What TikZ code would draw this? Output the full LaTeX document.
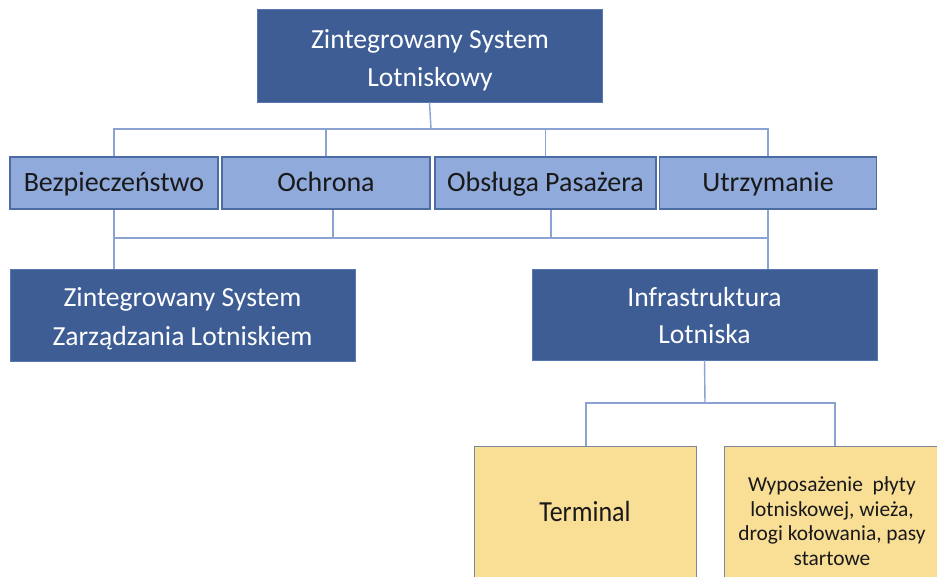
\documentclass[tikz,border=0pt]{standalone}
\usepackage{fontspec}
\usepackage{graphicx}
\setmainfont{Carlito}
\definecolor{darkbox}{HTML}{3E5D95}
\definecolor{darkedge}{HTML}{5677B0}
\definecolor{lightbox}{HTML}{8FAADB}
\definecolor{lightedge}{HTML}{4C6CA4}
\definecolor{yelbox}{HTML}{F9DE96}
\definecolor{yeledge}{HTML}{7D879C}
\definecolor{connc}{HTML}{8AA3D3}
\begin{document}
\begin{tikzpicture}[x=1pt,y=-1pt,
  base/.style={rectangle,inner sep=0pt,align=center},
  darkn/.style={base,fill=darkbox,draw=darkedge,line width=0.8pt},
  darkt/.style={inner sep=0pt,anchor=base,text=white,font=\fontsize{27.6}{33}\selectfont},
  lightn/.style={base,fill=lightbox,draw=lightedge,line width=1.2pt,minimum height=52pt},
  lightt/.style={inner sep=0pt,anchor=base,text=black!90,font=\fontsize{28}{33}\selectfont},
  yeln/.style={base,fill=yelbox,draw=yeledge,line width=1pt,text=black!90},
  conn/.style={draw=connc,line width=1.4pt}]
\useasboundingbox[fill=white] (0,0) rectangle (937,577);

% boxes
\node[darkn,minimum width=345pt,minimum height=93pt] (top) at (429.5,55.5) {};
\node[lightn,minimum width=208pt] (bez) at (114,183) {};
\node[lightn,minimum width=208pt] (och) at (326,183) {};
\node[lightn,minimum width=221pt] (obs) at (545.5,183) {};
\node[lightn,minimum width=217pt] (utr) at (768,183) {};
\node[darkn,minimum width=345pt,minimum height=92pt] (zszl) at (182.5,315) {};
\node[darkn,minimum width=345pt,minimum height=91pt] (inf) at (704.5,314.5) {};
\node[yeln,minimum width=222pt,minimum height=138pt] (term) at (585,515) {};
\node[yeln,minimum width=216pt,minimum height=138pt,anchor=north] (wyp) at (832,446) {};

% texts
\node[darkt] (topA) at (430,49) {Zintegrowany System};
\node[darkt] (topB) at (430,87) {Lotniskowy};
\node[lightt] (bezT) at (114,192) {Bezpieczeństwo};
\node[lightt] (ochT) at (326,192) {Ochrona};
\node[lightt] (obsT) at (545.5,192) {Obsługa Pasażera};
\node[lightt] (utrT) at (768,192) {Utrzymanie};
\node[darkt] (zszlA) at (182.5,307) {Zintegrowany System};
\node[darkt] (zszlB) at (182.5,345) {Zarządzania Lotniskiem};
\node[darkt] (infA) at (704.5,306) {Infrastruktura};
\node[darkt] (infB) at (704.5,344) {Lotniska};
\node[inner sep=0pt,anchor=base,text=black!90,font=\fontsize{26}{30}\selectfont] (termT) at (585,521) {\scalebox{1}[1.12]{Terminal}};
\node[base,font=\fontsize{21.4}{24.7}\selectfont,text=black!90] (wypT) at (832,521) {Wyposażenie\ \ płyty\\lotniskowej, wieża,\\drogi kołowania, pasy\\startowe};

% connectors
\coordinate (b1) at (431,129);
\coordinate (b2) at (440,238);
\coordinate (b3) at (705,403);

\draw[conn] (top.south) -- (b1);
\draw[conn] (bez.north) |- (b1);
\draw[conn] (utr.north) |- (b1);
\draw[conn] (och.north) -- (och.north |- b1);
\draw[conn] (obs.north) -- (obs.north |- b1);

\draw[conn] (bez.south) -- (bez.south |- zszl.north);
\draw[conn] (bez.south |- b2) -- (utr.south |- b2);
\draw[conn] ([xshift=7pt]och.south) -- ([xshift=7pt]och.south |- b2);
\draw[conn] ([xshift=5.5pt]obs.south) -- ([xshift=5.5pt]obs.south |- b2);
\draw[conn] (utr.south) -- (utr.south |- inf.north);

\draw[conn] (inf.south) -- (b3);
\draw[conn] ([xshift=1pt]term.north) |- (b3);
\draw[conn] ([xshift=3pt]wyp.north) |- (b3);
\end{tikzpicture}
\end{document}
